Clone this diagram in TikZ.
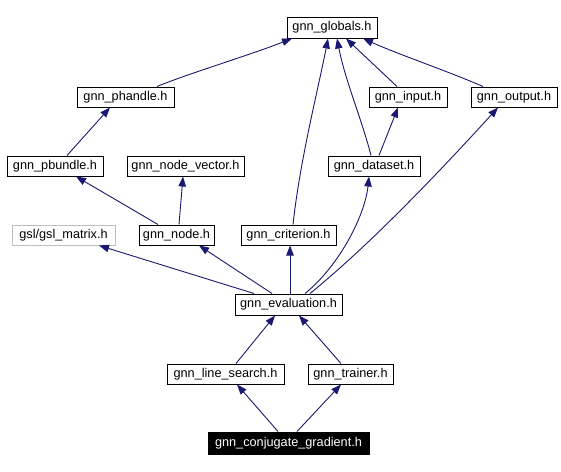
\documentclass[tikz,border=0pt]{standalone}
\usepackage{fontspec}
\setmainfont{Liberation Sans}
\usetikzlibrary{arrows.meta}
\definecolor{edgeblue}{HTML}{191970}
\definecolor{grayborder}{HTML}{BFBFBF}
\begin{document}
\begin{tikzpicture}[x=1pt,y=-1pt,
  box/.style={draw=black,line width=1pt,fill=white,inner sep=0pt,minimum height=20pt,font=\fontsize{12.7}{14}\selectfont},
  graybox/.style={box,draw=grayborder},
  blackbox/.style={box,fill=black,text=white,minimum height=22pt},
  edge/.style={draw=edgeblue,line width=0.9pt,-{Triangle[length=10pt,width=7.5pt]}}]
\useasboundingbox[fill=white] (0,0) rectangle (561,471);
% nodes
\node[box,minimum width=90pt,minimum height=21pt] (globals) at (332,27.5) {gnn\_globals.h};
\node[box,minimum width=97pt] (phandle) at (125.5,97) {gnn\_phandle.h};
\node[box,minimum width=78pt] (input) at (408,97) {gnn\_input.h};
\node[box,minimum width=86pt] (output) at (514,97) {gnn\_output.h};
\node[box,minimum width=96pt] (pbundle) at (55,166) {gnn\_pbundle.h};
\node[box,minimum width=117pt] (nodevector) at (185.5,166) {gnn\_node\_vector.h};
\node[box,minimum width=92pt] (dataset) at (374,166) {gnn\_dataset.h};
\node[graybox,minimum width=103pt] (gsl) at (63.5,235) {gsl/gsl\_matrix.h};
\node[box,minimum width=75pt] (gnode) at (176.5,235) {gnn\_node.h};
\node[box,minimum width=95pt] (criterion) at (288.5,235) {gnn\_criterion.h};
\node[box,minimum width=107pt,minimum height=21pt] (evaluation) at (288.5,304.5) {gnn\_evaluation.h};
\node[box,minimum width=117pt] (linesearch) at (225.5,374) {gnn\_line\_search.h};
\node[box,minimum width=85pt] (trainer) at (350.5,374) {gnn\_trainer.h};
\node[blackbox,minimum width=161pt] (conj) at (288.5,443) {gnn\_conjugate\_gradient.h};
% edges
\draw[edge] ([xshift=31.5pt]phandle.north) .. controls (190,73) and (250,55) .. ([xshift=-40pt]globals.south);
\draw[edge] ([xshift=12pt]pbundle.north) -- ([xshift=-15.5pt]phandle.south);
\draw[edge] ([xshift=-18.5pt]gnode.north) -- ([xshift=21pt]pbundle.south);
\draw[edge] ([xshift=2.5pt]gnode.north) -- ([xshift=-2.5pt]nodevector.south);
\draw[edge] ([xshift=4.5pt]criterion.north) .. controls (300,160) and (318,90) .. ([xshift=-4pt]globals.south);
\draw[edge] ([xshift=-3pt]dataset.north) .. controls (362,120) and (345,80) .. ([xshift=5pt]globals.south);
\draw[edge] ([xshift=-11pt]input.north) -- ([xshift=14pt]globals.south);
\draw[edge] ([xshift=-31pt]output.north) .. controls (450,72) and (400,55) .. ([xshift=31pt]globals.south);
\draw[edge] ([xshift=5pt]dataset.north) -- ([xshift=-10pt]input.south);
\draw[edge] ([xshift=-34.5pt]evaluation.north) -- ([xshift=35.5pt]gsl.south);
\draw[edge] ([xshift=-16.5pt]evaluation.north) -- ([xshift=22.5pt]gnode.south);
\draw[edge] ([xshift=1.5pt]evaluation.north) -- ([xshift=1.5pt]criterion.south);
\draw[edge] ([xshift=16.5pt]evaluation.north) .. controls (340,265) and (365,215) .. ([xshift=-5pt]dataset.south);
\draw[edge] ([xshift=21.5pt]evaluation.north) .. controls (345,265) and (400,215) .. ([xshift=-16pt]output.south);
\draw[edge] ([xshift=10.5pt]linesearch.north) -- ([xshift=-13.5pt]evaluation.south);
\draw[edge] ([xshift=-9.5pt]trainer.north) -- ([xshift=10.5pt]evaluation.south);
\draw[edge] ([xshift=-10.5pt]conj.north) -- ([xshift=11.5pt]linesearch.south);
\draw[edge] ([xshift=8.5pt]conj.north) -- ([xshift=-9.5pt]trainer.south);
\end{tikzpicture}
\end{document}
